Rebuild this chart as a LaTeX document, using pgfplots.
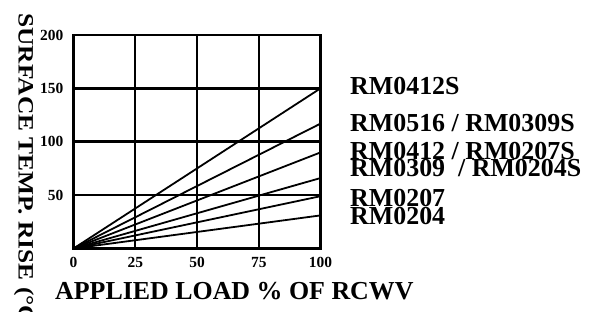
\documentclass[border=0pt]{standalone}
\usepackage{fontspec}
\setmainfont{Liberation Serif}
\usepackage{pgfplots}
\pgfplotsset{compat=1.18}
\begin{document}
\begin{tikzpicture}[x=1bp,y=1bp]
\useasboundingbox (0,0) rectangle (598,311);
\clip (0,0) rectangle (598,311);
\begin{axis}[
  at={(73.5bp,62.5bp)}, anchor=origin,
  scale only axis, width=247bp, height=213.5bp,
  xmin=0, xmax=100, ymin=0, ymax=200,
  xtick={0,25,50,75,100}, ytick={50,100,150,200},
  major tick length=0pt,
  /pgf/number format/assume math mode=true,
  tick label style={font=\fontsize{15.5}{15.5}\selectfont\bfseries},
  xticklabel style={anchor=north, inner sep=0pt, yshift=-9bp},
  yticklabel style={anchor=east, inner sep=0pt, xshift=-10bp},
  axis line style={line width=2.2bp},
  grid=major,
  x grid style={black, line width=1.9bp},
  y grid style={black, line width=2.6bp},
  clip=true,
]
\addplot[black, line width=1.8bp] coordinates {(0,0) (100,150)};
\addplot[black, line width=1.8bp] coordinates {(0,0) (100,117)};
\addplot[black, line width=1.8bp] coordinates {(0,0) (100,90)};
\addplot[black, line width=1.8bp] coordinates {(0,0) (100,66)};
\addplot[black, line width=1.8bp] coordinates {(0,0) (100,49)};
\addplot[black, line width=1.8bp] coordinates {(0,0) (100,31)};
\end{axis}
\begin{scope}[every node/.style={inner sep=0pt, font=\fontsize{26}{26}\selectfont\bfseries}]
\node[anchor=base west] at (350,{311-94.3}) {RM0412S};
\node[anchor=base west] at (350,{311-131.7}) {RM0516 / RM0309S};
\node[anchor=base west] at (350,{311-159.3}) {RM0412 / RM0207S};
\node[anchor=base west] at (350,{311-176.7}) {RM0309\hspace{13bp}/ RM0204S};
\node[anchor=base west] at (350,{311-206.7}) {RM0207};
\node[anchor=base west] at (350,{311-224}) {RM0204};
\node[anchor=base west] at (55,{311-299.3}) {APPLIED LOAD \% OF RCWV};
\end{scope}
\node[anchor=west, rotate=-90, inner sep=0pt, font=\fontsize{22}{22}\selectfont\bfseries] at (24,298) {\scalebox{1.16}[1]{SURFACE TEMP. RISE (°C)}};
\end{tikzpicture}
\end{document}
